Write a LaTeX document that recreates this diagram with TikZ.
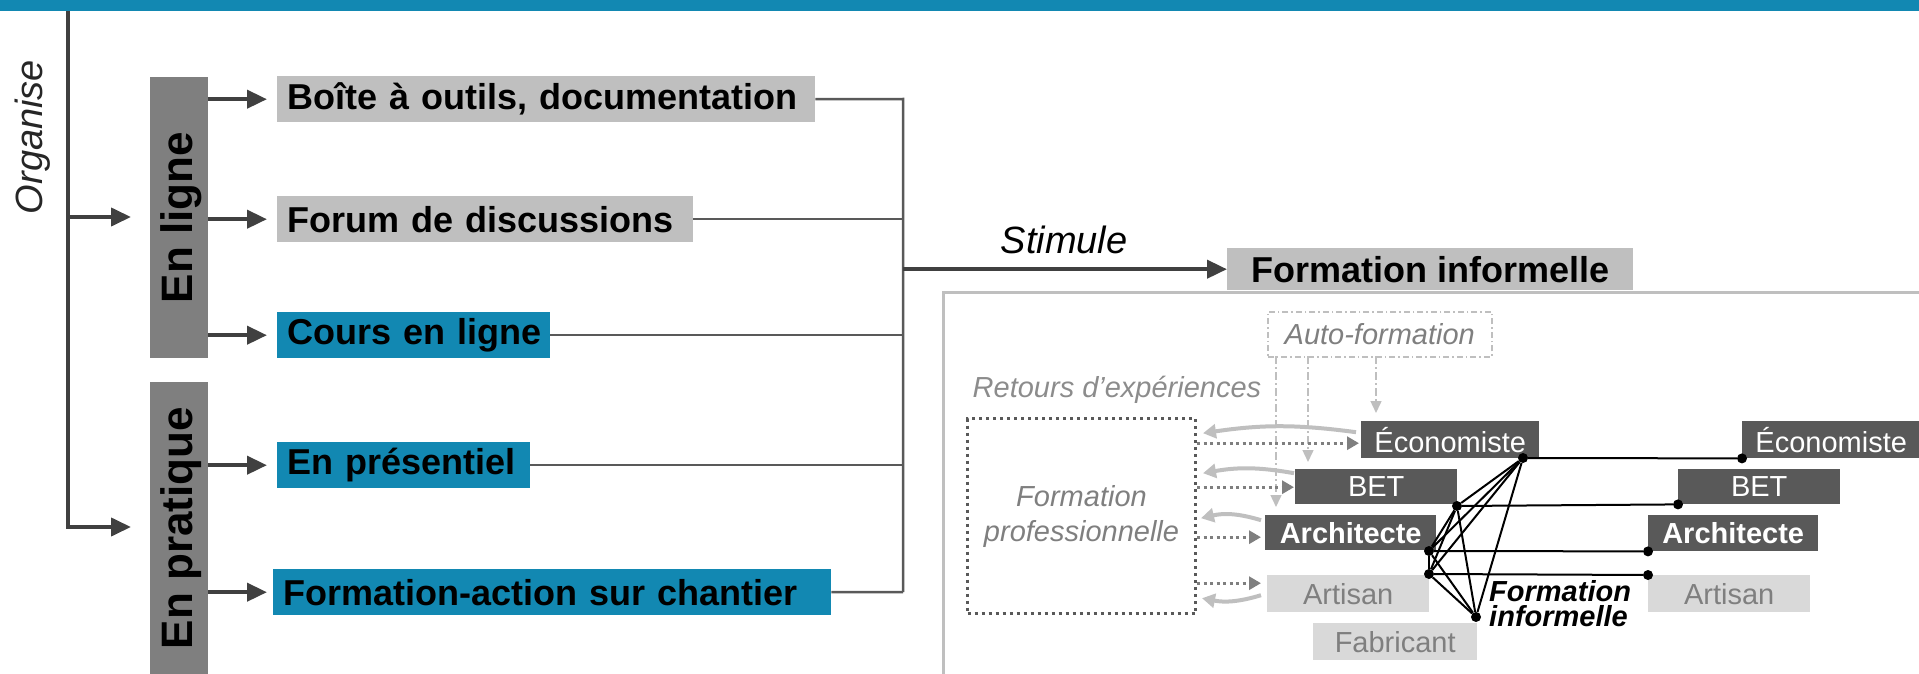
\documentclass[tikz,border=0pt]{standalone}
\usepackage{fontspec}
\setmainfont{Liberation Sans}
\usetikzlibrary{arrows.meta,calc}
\definecolor{barblue}{RGB}{18,136,178}
\definecolor{lgray}{RGB}{191,191,191}
\definecolor{mgray}{RGB}{127,127,127}
\definecolor{tgray}{RGB}{140,140,140}
\definecolor{dgray}{RGB}{89,89,89}
\definecolor{vlgray}{RGB}{217,217,217}
\definecolor{ink}{RGB}{64,64,64}
\begin{document}
\begin{tikzpicture}[x=1pt,y=-1pt,
  conn/.style={draw=ink, line width=4pt, -{Triangle[length=20pt,width=18pt]}},
  jline/.style={draw=dgray, line width=2.5pt},
  mainbox/.style={anchor=north west, inner xsep=10pt, inner ysep=0pt, minimum height=46pt, align=left, font=\fontsize{36}{40}\selectfont\bfseries, text=black},
  catbar/.style={fill=mgray, anchor=north west, inner sep=0pt, minimum width=58pt},
  cattext/.style={rotate=90, inner sep=0pt, font=\fontsize{44}{48}\selectfont\bfseries, text=black},
  netbox/.style={anchor=north west, inner sep=0pt, font=\fontsize{29}{32}\selectfont},
  darkbox/.style={netbox, fill=dgray, text=white},
  lightbox/.style={netbox, fill=vlgray, text=mgray},
  dot/.style={circle, fill=black, inner sep=0pt, minimum size=10pt},
  netline/.style={draw=black, line width=2pt},
  dotarr/.style={draw=mgray, line width=3pt, dash pattern=on 3pt off 3.5pt, -{Triangle[length=12pt,width=13pt]}},
  curvarr/.style={draw=lgray, line width=4pt, -{Triangle[length=13pt,width=14pt]}},
  autoarr/.style={draw=lgray, line width=1.5pt, dash pattern=on 8pt off 3pt on 2pt off 3pt, -{Triangle[length=12pt,width=11pt]}}
]
\useasboundingbox (0,0) rectangle (1919,674);
\fill[barblue] (0,0) rectangle (1919,11);

% left column
\node[rotate=90, inner sep=0pt, font=\fontsize{38}{40}\selectfont\itshape, text=black!85] (org) at (33,137) {Organise};
\coordinate (otop) at (68,11);
\coordinate (oj) at (68,217);
\coordinate (ot1) at (131,217);
\coordinate (ot2) at (131,527);
\draw[conn] (otop) |- (ot2);
\draw[conn] (oj) -- (ot1);

\node[catbar, minimum height=281pt] (enligne) at (150,77) {};
\node[cattext] (enlignet) at ([xshift=2pt]enligne.center) {En ligne};
\node[catbar, minimum height=292pt] (enpratique) at (150,382) {};
\node[cattext] (enpratiquet) at ([xshift=2pt]enpratique.center) {En pratique};

\node[mainbox, fill=lgray, text width=518pt] (boite) at (277,76) {\mbox{Boîte à outils, documentation}};
\node[mainbox, fill=lgray, text width=396pt] (forum) at (277,196) {\mbox{Forum de discussions}};
\node[mainbox, fill=barblue, text width=253pt] (cours) at (277,312) {\mbox{Cours en ligne}};
\node[mainbox, fill=barblue, text width=233pt] (pres) at (277,442) {\mbox{En présentiel}};
\node[mainbox, fill=barblue, text width=538pt] (fact) at (273,569) {\mbox{Formation-action sur chantier}};

\draw[conn, shorten >=10pt] (enligne.east |- boite.west) -- (boite.west);
\draw[conn, shorten >=10pt] (enligne.east |- forum.west) -- (forum.west);
\draw[conn, shorten >=10pt] (enligne.east |- cours.west) -- (cours.west);
\draw[conn, shorten >=10pt] (enpratique.east |- pres.west) -- (pres.west);
\draw[conn, shorten >=6pt] (enpratique.east |- fact.west) -- (fact.west);

% junction
\coordinate (jtop) at (903,99);
\coordinate (jbot) at (903,592);
\draw[jline] (boite.east) -- (jtop) -- (jbot);
\draw[jline] (forum.east) -- (forum.east -| jtop);
\draw[jline] (cours.east) -- (cours.east -| jtop);
\draw[jline] (pres.east) -- (pres.east -| jtop);
\draw[jline] (fact.east) -- (jbot);

\node[anchor=north west, fill=lgray, inner sep=0pt, minimum width=406pt, minimum height=42pt, font=\fontsize{36}{40}\selectfont\bfseries] (header) at (1227,248) {Formation informelle};
\draw[conn] (jtop |- header.west) -- (header.west);
\node[font=\fontsize{38}{40}\selectfont\itshape] (stim) at (1064,240) {Stimule};

% big frame
\draw[draw=lgray, line width=3pt] (943,690) -- (943,292) -- (1930,292);

% network
\node[anchor=north west, draw=lgray, dash pattern=on 6pt off 3pt on 1.5pt off 3pt, line width=1.5pt, minimum width=224pt, minimum height=45pt, inner sep=0pt, text=mgray, font=\fontsize{29}{32}\selectfont\itshape] (autof) at (1267,311) {Auto-formation};
\node[text=tgray, inner sep=0pt, font=\fontsize{29}{32}\selectfont\itshape] (ret) at (1117,390) {Retours d’expériences};
\node[anchor=north west, draw=dgray, dash pattern=on 3pt off 4pt, line width=3pt, minimum width=228pt, minimum height=195pt, inner sep=0pt, align=center, text=mgray, font=\fontsize{29}{35}\selectfont\itshape] (fpro) at (966,417) {Formation\\professionnelle};

\node[darkbox, minimum width=178pt, minimum height=37pt] (eco1) at (1361,421) {Économiste};
\node[darkbox, minimum width=162pt, minimum height=35pt] (bet1) at (1295,469) {BET};
\node[darkbox, minimum width=171pt, minimum height=35pt, font=\fontsize{29}{32}\selectfont\bfseries] (arch1) at (1265,515) {Architecte};
\node[lightbox, minimum width=162pt, minimum height=37pt] (art1) at (1267,575) {Artisan};
\node[lightbox, minimum width=164pt, minimum height=37pt] (fab) at (1313,623) {Fabricant};

\node[darkbox, minimum width=178pt, minimum height=37pt] (eco2) at (1742,421) {Économiste};
\node[darkbox, minimum width=162pt, minimum height=35pt] (bet2) at (1678,469) {BET};
\node[darkbox, minimum width=170pt, minimum height=36pt, font=\fontsize{29}{32}\selectfont\bfseries] (arch2) at (1648,515) {Architecte};
\node[lightbox, minimum width=162pt, minimum height=37pt] (art2) at (1648,575) {Artisan};

% auto-formation arrows
\coordinate (a1) at (1276,356);
\coordinate (a2) at (1308,356);
\coordinate (a3) at (1376,356);
\draw[autoarr, shorten >=8pt] (a1) -- (a1 |- arch1.north);
\draw[autoarr, shorten >=7pt] (a2) -- (a2 |- bet1.north);
\draw[autoarr, shorten >=8pt] (a3) -- (a3 |- eco1.north);

% dotted arrows
\draw[dotarr] ($(fpro.east |- eco1.west)+(0,3.5)$) -- ($(eco1.west)+(-2,3.5)$);
\draw[dotarr] ($(fpro.east |- bet1.west)+(0,0.5)$) -- ($(bet1.west)+(-1,0.5)$);
\draw[dotarr] ($(fpro.east |- arch1.west)+(0,4.5)$) -- ($(arch1.west)+(-4,4.5)$);
\draw[dotarr] ($(fpro.east |- art1.west)+(0,-10.5)$) -- ($(art1.west)+(-6,-10.5)$);

% curved return arrows
\draw[curvarr] ($(eco1.west)+(-5,-7.5)$) to[bend right=8] ($(fpro.east |- eco1.west)+(6,-6.5)$);
\draw[curvarr] ($(bet1.west)+(-1,-13.5)$) to[bend right=10] ($(fpro.east |- bet1.west)+(6,-13.5)$);
\draw[curvarr] ($(arch1.west)+(-4,-12.5)$) to[bend right=15] ($(fpro.east |- arch1.west)+(4,-14.5)$);
\draw[curvarr] ($(art1.west)+(-6,1.5)$) to[bend left=14] ($(fpro.east |- art1.west)+(5,4.5)$);

% network dots
\node[dot] (dE) at (1523,458) {};
\node[dot] (dB) at (1457,506) {};
\node[dot] (dA) at (1429,551) {};
\node[dot] (dR) at (1429,574) {};
\node[dot] (dF) at (1476,617) {};
\node[dot] (rE) at (eco2.south west) {};
\node[dot] (rB) at (bet2.south west) {};
\node[dot] (rA) at (arch2.south west) {};
\node[dot] (rR) at (art2.north west) {};

\draw[netline] (dE) -- (dB);
\draw[netline] (dE) -- (dA);
\draw[netline] (dE) -- (dR);
\draw[netline] (dE) -- (dF);
\draw[netline] (dB) -- (dA);
\draw[netline] (dB) -- (dR);
\draw[netline] (dB) -- (dF);
\draw[netline] (dA) -- (dR);
\draw[netline] (dA) -- (dF);
\draw[netline] (dR) -- (dF);

\draw[netline] (dE) -- (rE);
\draw[netline] (dB) -- (rB);
\draw[netline] (dA) -- (rA);
\draw[netline] (dR) -- (rR);

\node[anchor=west, align=left, inner sep=0pt, font=\fontsize{29}{25}\selectfont\bfseries\itshape] (finf) at (1489,604) {Formation\\informelle};
\end{tikzpicture}
\end{document}
